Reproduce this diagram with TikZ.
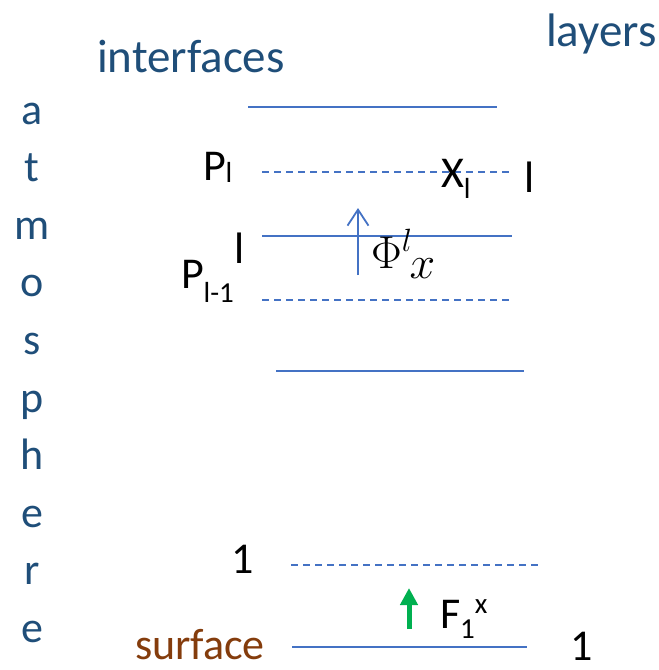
\RequirePackage{fix-cm}
\documentclass[tikz,border=0pt]{standalone}
\usepackage{fontspec}
\setmainfont{Carlito}
\usetikzlibrary{calc,arrows.meta}

\definecolor{lineblue}{HTML}{4472C4}
\definecolor{textblue}{HTML}{1F4E79}
\definecolor{surfbrown}{HTML}{843C0C}
\definecolor{fluxgreen}{HTML}{00B050}

% lowered / raised small text, as in the slide
\newcommand{\lowtxt}[2]{\raisebox{-#1pt}{\fontsize{29}{29}\selectfont #2}}
\newcommand{\hightxt}[2]{\raisebox{#1pt}{\fontsize{29}{29}\selectfont #2}}

\begin{document}
\begin{tikzpicture}[x=1pt,y=-1pt]
     \tikzstyle{txt}=[inner sep=0pt, outer sep=0pt, font=\fontsize{44}{44}\selectfont]
     \tikzstyle{heading}=[txt, textblue, anchor=base west, font=\fontsize{47}{47}\selectfont]
     \tikzstyle{interface}=[lineblue, line width=1.6pt]
     \tikzstyle{midlevel}=[lineblue, line width=1.4pt, dash pattern=on 7pt off 5pt]
     \tikzstyle{flux}=[lineblue, line width=1.8pt, -{Straight Barb[length=16pt,width=21pt]}]
     \tikzstyle{srcflux}=[fluxgreen, line width=5pt, -{Triangle[length=17pt,width=17pt]}]

     \useasboundingbox (0,0) rectangle (659,670);

     % headings
     \node[heading] (ifc) at (97,72) {interfaces};
     \node[heading] (lay) at (546,46) {layers};
     \foreach \ch [count=\i from 0] in {a,t,m,o,s,p,h,e,r,e}
       \node[txt, textblue, anchor=base] (atm\i) at (32,{124+57.6*\i}) {\ch};

     % interfaces and mid levels
     \draw[interface] (248,107) coordinate (top1) -- (497,107) coordinate (top2);
     \draw[midlevel] (262,172) coordinate (pl1) -- (512,172) coordinate (pl2);
     \draw[interface] (262,236) coordinate (il1) -- (512,236) coordinate (il2);
     \draw[midlevel] (262,300) coordinate (pm1) -- (512,300) coordinate (pm2);
     \draw[interface] (276,371) coordinate (low1) -- (524,371) coordinate (low2);
     \draw[midlevel] (291,565) coordinate (p11) -- (541,565) coordinate (p12);
     \draw[interface] (292,647) coordinate (sfc1) -- (527,647) coordinate (sfc2);

     % labels
     \node[txt, anchor=base west] (Pl) at (203,180) {P\lowtxt{2}{l}};
     \node[txt, anchor=base west] (Xl) at (441,187) {X\lowtxt{11}{l}};
     \node[txt, anchor=base] (layl) at (530,192) {l};
     \node[txt, anchor=base] (ifcl) at (240,263) {l};
     \node[txt, anchor=base west] (Plm) at (181,288) {P\lowtxt{14}{l-1}};
     \node[txt, anchor=base] (ifc1) at (243,573) {1};
     \node[txt, anchor=base] (lay1) at (582,660) {1};
     \node[txt, surfbrown, anchor=base west] (surf) at (135,659) {surface};
     \node[txt, anchor=base west] (F1x) at (440,628) {F\lowtxt{10}{1}\hightxt{15}{x}};
     \node[inner sep=0pt, anchor=base west, font=\fontsize{46}{46}\selectfont] (phi) at (371,268)
          {$\Phi^{l}\kern-3pt\lower10pt\hbox{$x$}$};

     % fluxes
     \coordinate (phiTail) at (358,275);
     \coordinate (phiHead) at (358,208);
     \draw[flux] (phiTail) -- (phiHead);
     \coordinate (fTail) at (409,629);
     \coordinate (fHead) at (409,588);
     \draw[srcflux] (fTail) -- (fHead);
\end{tikzpicture}
\end{document}
